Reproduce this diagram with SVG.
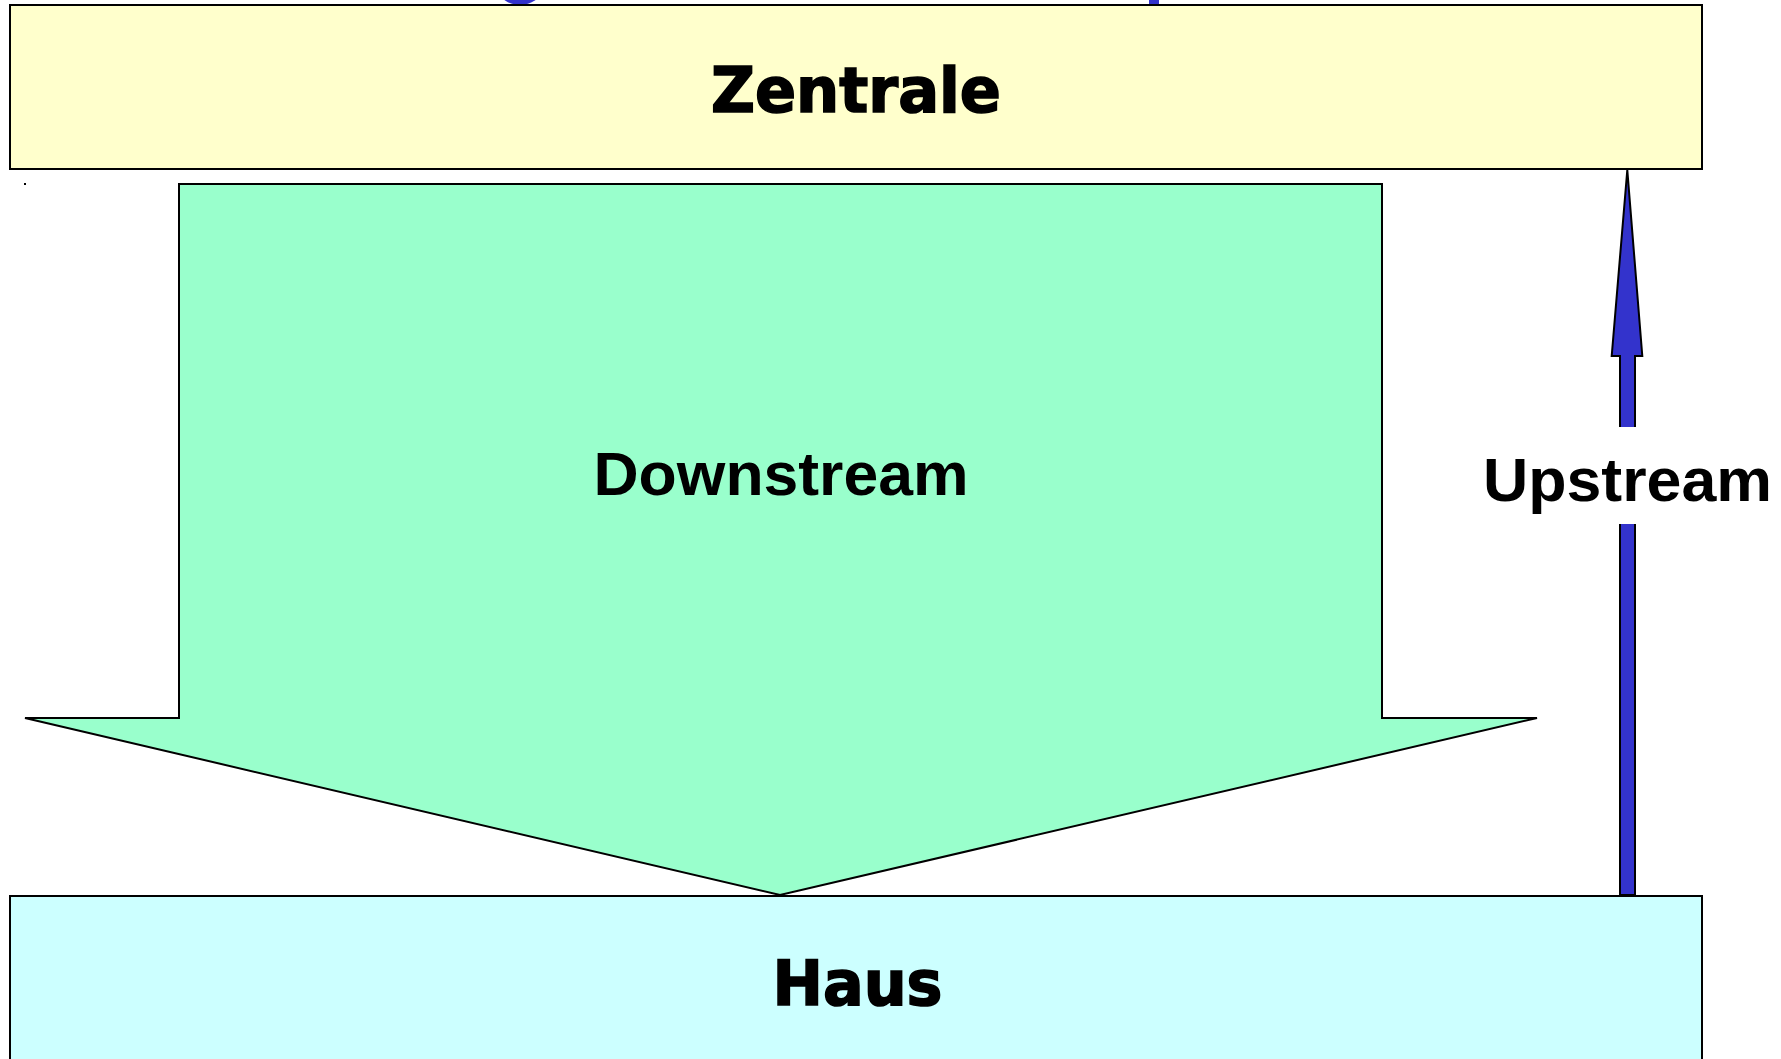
<svg xmlns="http://www.w3.org/2000/svg" width="1781" height="1059" viewBox="0 0 1781 1059">
  <style>
    .box { stroke: #000; stroke-width: 2; }
    .heavy { font-family: "DejaVu Sans", "Liberation Sans", sans-serif; font-weight: bold; font-size: 62px; fill: #000; stroke: #000; stroke-width: 1.6; text-anchor: middle; }
    .label { font-family: "Liberation Sans", Arial, sans-serif; font-weight: bold; font-size: 62px; fill: #000; text-anchor: middle; }
    .blue { fill: #3333CC; }
  </style>
  <rect width="1781" height="1059" fill="#fff"/>
  <g id="top-fragments">
    <ellipse class="blue" cx="520" cy="-10" rx="21" ry="15"/>
    <rect class="blue" x="1149" y="0" width="10" height="5"/>
  </g>
  <rect x="24" y="183" width="2" height="2" fill="#000"/>
  <g id="zentrale">
    <rect class="box" x="10" y="5" width="1692" height="164" fill="#FFFFCC"/>
    <text class="heavy" x="856" y="112" textLength="290" lengthAdjust="spacingAndGlyphs">Zentrale</text>
  </g>
  <g id="haus">
    <rect class="box" x="10" y="896" width="1692" height="180" fill="#CCFFFF"/>
    <text class="heavy" x="857.5" y="1005" textLength="170" lengthAdjust="spacingAndGlyphs">Haus</text>
  </g>
  <g id="downstream">
    <polygon class="box" points="179,184 1382,184 1382,718 1537,718 780,895 25,718 179,718" fill="#99FFCC"/>
    <text class="label" x="781" y="495" textLength="375" lengthAdjust="spacingAndGlyphs">Downstream</text>
  </g>
  <g id="connectors">
    <g id="upstream">
      <polygon points="1627.3,170 1642.3,356 1635,356 1635,895 1620,895 1620,356 1611.7,356" class="blue" stroke="#000" stroke-width="2"/>
      <rect x="1480" y="427" width="301" height="97" fill="#fff"/>
      <text class="label" x="1627.5" y="501" textLength="289" lengthAdjust="spacingAndGlyphs">Upstream</text>
    </g>
  </g>
</svg>
